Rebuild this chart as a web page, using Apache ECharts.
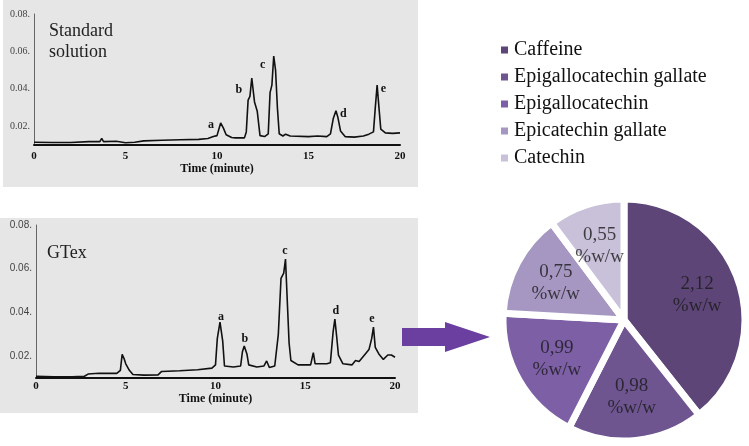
<!DOCTYPE html>
<html>
<head>
<meta charset="utf-8">
<script src="https://cdn.jsdelivr.net/npm/echarts@6/dist/echarts.min.js"></script>
<style>
  html, body { margin: 0; padding: 0; background: #fff; }
  #chart { width: 749px; height: 446px; }
</style>
</head>
<body>
<div id="chart"></div>
<script>
// Standard solution chromatogram (time in minutes, absorbance)
const stdTime = [0, 1, 2, 3, 3.6, 3.7, 3.8, 4.5, 5, 5.5, 6, 7, 8, 9, 9.5, 9.8, 10.0, 10.2, 10.35, 10.5, 10.8, 11.0,
  11.5, 11.6, 11.7, 11.8, 11.9, 12.0, 12.05, 12.2, 12.35, 12.6, 12.8, 12.9, 13.0, 13.1, 13.2, 13.3, 13.4, 13.6, 13.75,
  14, 15, 15.5, 16, 16.2, 16.35, 16.5, 16.6, 16.75, 17, 17.5, 18, 18.3, 18.55, 18.65, 18.75, 18.85, 18.95, 19.2, 19.6, 20];
const stdAbs = [0.0115, 0.0113, 0.0113, 0.0118, 0.0118, 0.0135, 0.0118, 0.012, 0.0112, 0.0115, 0.0122, 0.0125, 0.0128,
  0.013, 0.0135, 0.0145, 0.015, 0.0218, 0.019, 0.0155, 0.014, 0.0138,
  0.0138, 0.017, 0.034, 0.036, 0.0458, 0.045, 0.033, 0.028, 0.015, 0.0145, 0.016, 0.038, 0.042, 0.0575, 0.050, 0.030,
  0.016, 0.0148, 0.0158,
  0.0148, 0.0145, 0.0148, 0.0145, 0.016, 0.024, 0.0283, 0.025, 0.0175, 0.0145, 0.0142, 0.0148, 0.0158, 0.017, 0.03,
  0.042, 0.03, 0.0185, 0.0165, 0.0162, 0.0165];

// GTex chromatogram
const gtexTime = [0, 1, 2, 2.7, 2.9, 3.5, 4.0, 4.5, 4.7, 4.8, 4.9, 5.0, 5.1, 5.2, 5.4, 6, 6.8, 7.0, 8, 9, 9.8, 10.0,
  10.1, 10.25, 10.4, 10.5, 11, 11.4, 11.5, 11.6, 11.75, 11.85, 12.3, 12.7, 12.85, 13.0, 13.3, 13.5, 13.65, 13.8, 13.9,
  14.0, 14.1, 14.2, 14.6, 15.3, 15.45, 15.55, 16.2, 16.4, 16.55, 16.65, 16.75, 16.85, 17.1, 17.6, 17.8, 18.0, 18.3,
  18.55, 18.7, 18.8, 18.9, 19.1, 19.35, 19.6, 19.8, 20];
const gtexAbs = [0.0108, 0.0106, 0.0106, 0.0108, 0.0118, 0.0122, 0.0121, 0.0121, 0.0135, 0.0208, 0.019, 0.0165, 0.017,
  0.0135, 0.0116, 0.0113, 0.0114, 0.013, 0.0133, 0.0138, 0.0145, 0.016,
  0.028, 0.0356, 0.027, 0.0155, 0.015, 0.0155, 0.022, 0.0246, 0.021, 0.016, 0.015, 0.0155, 0.0178, 0.0148, 0.0155,
  0.03, 0.0556, 0.058, 0.0644,
  0.045, 0.026, 0.018, 0.016, 0.016, 0.0216, 0.0165, 0.0165, 0.017, 0.031, 0.037, 0.029, 0.0205, 0.0165, 0.016, 0.018,
  0.0175, 0.0205, 0.023, 0.028, 0.0333, 0.024, 0.021, 0.0185, 0.0205, 0.0205, 0.0195];

// peak letters: [time, absorbance]
const peakNames = ['a', 'b', 'c', 'd', 'e'];
const stdPeakPos = [[9.67, 0.0207], [11.2, 0.0394], [12.5, 0.0528], [16.9, 0.0266], [19.1, 0.040]];
const gtexPeakPos = [[10.3, 0.0379], [11.64, 0.028], [13.87, 0.0681], [16.71, 0.0406], [18.72, 0.037]];

// pie composition (%w/w)
const compounds = ['Caffeine', 'Epigallocatechin gallate', 'Epigallocatechin', 'Epicatechin gallate', 'Catechin'];
const amounts = [2.12, 0.98, 0.99, 0.75, 0.55];
const sliceColors = ['#5d4677', '#6e5590', '#7d5fa6', '#a697c2', '#c9c1da'];

const serif = '"Liberation Serif", "DejaVu Serif", serif';
const sans = '"Liberation Sans", Arial, sans-serif';

const pairs = (xs, ys) => xs.map((x, i) => [x, ys[i]]);
const peakMarks = (pos) => ({
  symbol: 'circle',
  symbolSize: 1,
  silent: true,
  itemStyle: { color: 'rgba(0,0,0,0)' },
  label: { show: true, position: 'inside', color: '#111', fontFamily: serif, fontWeight: 'bold', fontSize: 12,
    formatter: (p) => p.name },
  data: pos.map((c, i) => ({ name: peakNames[i], coord: c }))
});

const xAxisCfg = (grid, labelMargin, nameGap) => ({
  type: 'value', gridIndex: grid, min: 0, max: 20, interval: 5,
  name: 'Time (minute)', nameLocation: 'middle', nameGap: nameGap,
  nameTextStyle: { color: '#111', fontFamily: serif, fontWeight: 'bold', fontSize: 12 },
  axisLine: { show: true, lineStyle: { color: '#111', width: 2 } },
  axisTick: { show: false },
  splitLine: { show: false },
  axisLabel: { color: '#111', fontFamily: serif, fontWeight: 'bold', fontSize: 11, margin: labelMargin }
});

const yAxisCfg = (grid, font) => ({
  type: 'value', gridIndex: grid, min: 0.01, max: 0.08, interval: 0.01,
  axisLine: { show: true, lineStyle: { color: '#666', width: 1 } },
  axisTick: { show: false },
  splitLine: { show: false },
  axisLabel: {
    color: '#444', fontFamily: font, fontSize: 10, margin: 4,
    formatter: (v) => (Math.round(v * 100) % 2 === 0 ? v.toFixed(2) + '.' : '')
  }
});

// slice mid-points (in amount units) for the value labels, placed on a polar system that mirrors the pie
const total = amounts.reduce((s, v) => s + v, 0);
let run = 0;
const labelPoints = amounts.map((v) => {
  const mid = run + v / 2;
  run += v;
  return [0.64, mid];
});

const chart = echarts.init(document.getElementById('chart'));
chart.setOption({
  animation: false,
  backgroundColor: '#fff',
  graphic: [
    { type: 'rect', z: -10, shape: { x: 3, y: 0, width: 415, height: 187 }, style: { fill: '#e6e6e6' } },
    { type: 'rect', z: -10, shape: { x: 0, y: 218, width: 418, height: 195 }, style: { fill: '#e6e6e6' } },
    { type: 'text', left: 49, top: 21, style: { text: 'Standard\nsolution', font: '18px ' + serif, fill: '#222', lineHeight: 21 } },
    { type: 'text', left: 47, top: 244, style: { text: 'GTex', font: '18px ' + serif, fill: '#222' } },
    { type: 'polygon', shape: { points: [[402, 328], [445, 328], [445, 322], [490, 337], [445, 352], [445, 346], [402, 346]] },
      style: { fill: '#6b3fa0' } }
  ],
  legend: {
    data: compounds, orient: 'vertical', left: 494, top: 35, itemGap: 7,
    icon: 'rect', itemWidth: 9, itemHeight: 9,
    selectedMode: false,
    textStyle: { color: '#111', fontFamily: serif, fontSize: 20, padding: [0, 0, 0, 0] }
  },
  grid: [
    { left: 34, top: 14, width: 366, height: 131 },
    { left: 36, top: 225, width: 359, height: 153 }
  ],
  polar: { center: [624, 320], radius: 121 },
  angleAxis: { type: 'value', min: 0, max: total, startAngle: 90, clockwise: true, show: false },
  radiusAxis: { type: 'value', min: 0, max: 1, show: false },
  xAxis: [xAxisCfg(0, 6, 17), xAxisCfg(1, 3, 10)],
  yAxis: [yAxisCfg(0, serif), yAxisCfg(1, sans)],
  series: [
    { type: 'line', xAxisIndex: 0, yAxisIndex: 0, data: pairs(stdTime, stdAbs), showSymbol: false,
      lineStyle: { color: '#111', width: 1.6 }, markPoint: peakMarks(stdPeakPos) },
    { type: 'line', xAxisIndex: 1, yAxisIndex: 1, data: pairs(gtexTime, gtexAbs), showSymbol: false,
      lineStyle: { color: '#111', width: 1.6 }, markPoint: peakMarks(gtexPeakPos) },
    {
      type: 'pie', center: [624, 320], radius: [0, 121], startAngle: 90, clockwise: true,
      label: { show: false }, labelLine: { show: false }, silent: true,
      itemStyle: { borderColor: '#fff', borderWidth: 7 },
      data: compounds.map((n, i) => ({ name: n, value: amounts[i], itemStyle: { color: sliceColors[i] } }))
    },
    {
      type: 'scatter', coordinateSystem: 'polar', symbolSize: 1, silent: true, z: 5,
      itemStyle: { color: 'rgba(0,0,0,0)' },
      label: {
        show: true, position: 'inside', color: '#1a1a1a', fontFamily: serif, fontSize: 19, lineHeight: 22,
        formatter: (p) => amounts[p.dataIndex].toFixed(2).replace('.', ',') + '\n%w/w'
      },
      data: labelPoints
    }
  ]
});
</script>
</body>
</html>
